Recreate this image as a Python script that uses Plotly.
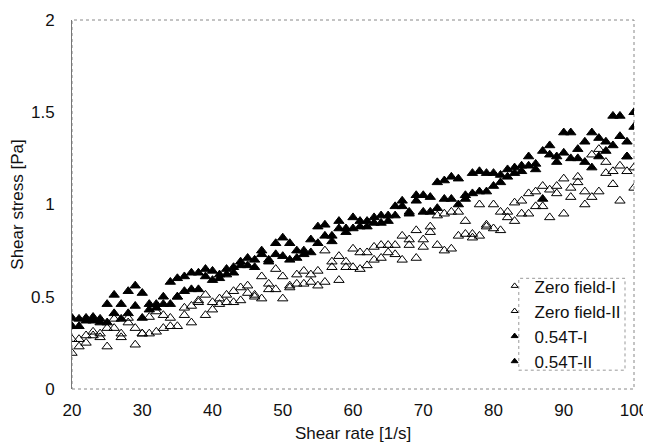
import plotly.graph_objects as go

shear_rate = list(range(20, 101))

zero_field_I = [
    0.27, 0.27, 0.29, 0.31, 0.30, 0.33, 0.38, 0.30, 0.385, 0.33,
    0.30, 0.39, 0.42, 0.40, 0.385, 0.50, 0.44, 0.45, 0.48, 0.51,
    0.47, 0.49, 0.51, 0.53, 0.55, 0.56, 0.51, 0.61, 0.57, 0.65,
    0.61, 0.56, 0.62, 0.64, 0.62, 0.64, 0.75, 0.69, 0.72, 0.69,
    0.76, 0.74, 0.74, 0.77, 0.78, 0.78, 0.78, 0.83, 0.81, 0.86,
    0.81, 0.88, 0.94, 0.95, 0.96, 0.96, 0.91, 0.84, 1.00, 0.88,
    1.00, 0.96, 0.96, 1.01, 1.02, 1.06, 1.07, 1.10, 1.08, 1.10,
    1.14, 1.09, 1.15, 1.07, 1.27, 1.30, 1.23, 1.18, 1.21, 1.26,
    1.20,
]
zero_field_II = [
    0.195, 0.23, 0.25, 0.29, 0.28, 0.23, 0.33, 0.28, 0.36, 0.24,
    0.30, 0.30, 0.31, 0.33, 0.34, 0.34, 0.40, 0.36, 0.47, 0.40,
    0.43, 0.46, 0.47, 0.47, 0.48, 0.52, 0.50, 0.49, 0.54, 0.54,
    0.49, 0.55, 0.57, 0.57, 0.58, 0.56, 0.58, 0.66, 0.59, 0.66,
    0.66, 0.65, 0.67, 0.70, 0.71, 0.74, 0.73, 0.70, 0.78, 0.71,
    0.77, 0.85, 0.78, 0.75, 0.76, 0.83, 0.84, 0.82, 0.83, 0.89,
    0.87, 0.86, 0.93, 0.91, 0.95, 0.95, 0.99, 0.99, 0.93, 1.06,
    0.95, 1.04, 1.12, 1.00, 1.04, 1.07, 1.17, 1.11, 1.02, 1.18,
    1.09,
]
t054_I = [
    0.385, 0.38, 0.385, 0.39, 0.38, 0.46, 0.51, 0.46, 0.53, 0.56,
    0.52, 0.46, 0.46, 0.50, 0.58, 0.60, 0.61, 0.63, 0.63, 0.65,
    0.64, 0.62, 0.65, 0.66, 0.69, 0.71, 0.70, 0.75, 0.70, 0.79,
    0.82, 0.79, 0.75, 0.75, 0.81, 0.88, 0.89, 0.83, 0.91, 0.87,
    0.93, 0.91, 0.91, 0.93, 0.94, 0.94, 0.99, 1.02, 0.96, 1.05,
    1.05, 1.04, 1.12, 1.13, 1.15, 1.14, 1.05, 1.17, 1.18, 1.17,
    1.17, 1.16, 1.19, 1.20, 1.21, 1.26, 1.22, 1.29, 1.32, 1.26,
    1.39, 1.39, 1.30, 1.34, 1.39, 1.36, 1.34, 1.48, 1.48, 1.34,
    1.50,
]
t054_II = [
    0.34, 0.34, 0.37, 0.37, 0.36, 0.36, 0.41, 0.38, 0.41, 0.45,
    0.385, 0.43, 0.44, 0.46, 0.46, 0.50, 0.53, 0.54, 0.54, 0.61,
    0.59, 0.60, 0.62, 0.63, 0.67, 0.67, 0.66, 0.73, 0.69, 0.73,
    0.72, 0.70, 0.71, 0.73, 0.74, 0.79, 0.83, 0.80, 0.87, 0.85,
    0.87, 0.88, 0.88, 0.90, 0.90, 0.91, 0.94, 0.99, 0.95, 1.02,
    0.96, 0.96, 0.98, 1.03, 1.03, 1.00, 1.03, 1.06, 1.07, 1.07,
    1.10, 1.12, 1.15, 1.17, 1.18, 1.21, 1.19, 1.03, 1.27, 1.23,
    1.28, 1.25, 1.25, 1.23, 1.20, 1.26, 1.29, 1.32, 1.37, 1.26,
    1.42,
]

series = [
    ("Zero field-I", zero_field_I, "triangle-up-open"),
    ("Zero field-II", zero_field_II, "triangle-up-open"),
    ("0.54T-I", t054_I, "triangle-up"),
    ("0.54T-II", t054_II, "triangle-up"),
]

FONT = "Liberation Sans, Arial, sans-serif"

fig = go.Figure()
for name, ys, sym in series:
    fig.add_trace(go.Scatter(
        x=shear_rate, y=ys, mode="markers", name=name, legendgroup=name,
        showlegend=False,
        marker=dict(symbol=sym, size=9, color="black",
                    line=dict(color="black", width=1)),
    ))
# legend entries with the small legend symbols of the reference
for name, ys, sym in series:
    fig.add_trace(go.Scatter(
        x=[None], y=[None], mode="markers", name=name, legendgroup=name,
        marker=dict(symbol=sym, size=6, color="black",
                    line=dict(color="black", width=1)),
    ))

# the page body has an 8px margin, so the figure is 8px smaller on each side
fig.update_layout(
    width=643, height=437,
    margin=dict(l=64, r=17, t=12, b=56),
    paper_bgcolor="white", plot_bgcolor="white",
    font=dict(family=FONT, size=17, color="#111"),
    showlegend=True,
    legend=dict(x=0.752, y=0.327, xanchor="left", yanchor="top",
                bgcolor="rgba(0,0,0,0)", borderwidth=0,
                font=dict(size=17), itemsizing="trace",
                tracegroupgap=0, itemwidth=30),
    xaxis=dict(range=[20, 100], tickvals=[20, 30, 40, 50, 60, 70, 80, 90, 100],
               showgrid=False, zeroline=False, showline=False, automargin=False,
               ticks="", ticklabelstandoff=9, tickfont=dict(size=17),
               title=dict(text="Shear rate [1/s]", standoff=8, font=dict(size=17))),
    yaxis=dict(range=[0, 2], tickvals=[0, 0.5, 1, 1.5, 2],
               ticktext=["0", "0.5", "1", "1.5", "2"],
               showgrid=False, zeroline=False, showline=True, automargin=False,
               linecolor="#777", linewidth=1,
               ticks="", ticklabelstandoff=13, tickfont=dict(size=17),
               title=dict(text="Shear stress [Pa]", standoff=3, font=dict(size=17))),
)

# dotted plot frame
fig.add_shape(type="rect", xref="paper", yref="paper", x0=0, x1=1, y0=0, y1=1,
              line=dict(color="#888", width=1, dash="dot"), layer="below")
# dotted legend frame
fig.add_shape(type="rect", xref="paper", yref="paper", x0=0.795, x1=0.984,
              y0=0.051, y1=0.30, line=dict(color="#999", width=1, dash="dot"))

fig.write_html("out.html")
